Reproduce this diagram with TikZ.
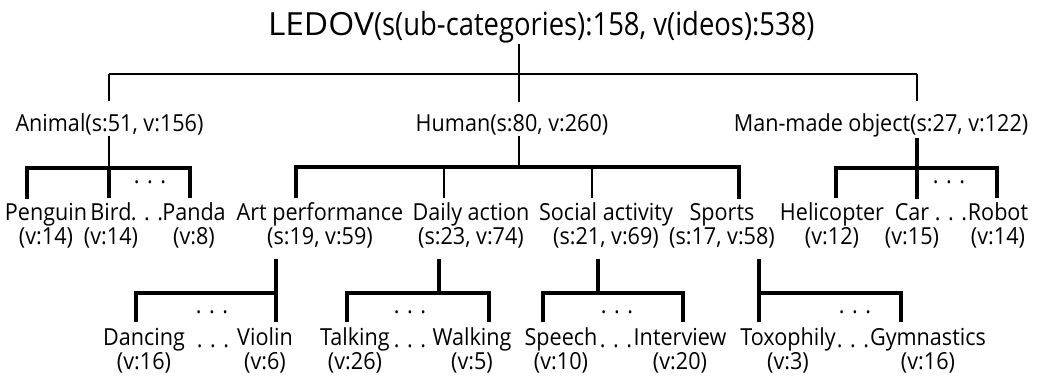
\documentclass[tikz,border=0pt]{standalone}
\usepackage{fontspec}
\setmainfont{Open Sans}[FakeStretch=0.92]
\newfontfamily\titlefont{Open Sans}[FakeStretch=0.86]
\newfontfamily\ledovfont{Open Sans}[FakeStretch=1.05]
\begin{document}
\begin{tikzpicture}[x=0.75pt,y=-0.75pt,
  lbl/.style={inner sep=0pt, outer sep=0pt, anchor=base, align=center, font=\fontsize{17.6}{18}\selectfont},
  dotsnode/.style={inner sep=0pt, outer sep=0pt, anchor=base, font=\fontsize{17.6}{18}\selectfont},
  thinln/.style={line width=1.2pt},
  medln/.style={line width=1.8pt},
  thickln/.style={line width=2.4pt, line join=miter},
]
\useasboundingbox (0,0) rectangle (1039,391);

% ---- title
\node[anchor=base west, inner sep=0pt, outer sep=0pt] (root) at (268,36)
  {\titlefont\fontsize{23.9}{28}\selectfont{\ledovfont LEDOV}(s(ub-categories):158, v(ideos):538)};

% ---- level 2
\node[lbl] (animal)  at (109.5,132) {Animal(s:51, v:156)};
\node[lbl] (human)   at (512,132)   {Human(s:80, v:260)};
\node[lbl] (manmade) at (881,132)   {Man-made object(s:27, v:122)};

% ---- level 3 (base anchor = baseline of the second line)
\node[lbl] (penguin) at (46,245)  {Penguin\\(v:14)};
\node[lbl] (bird)    at (111,245) {Bird\\(v:14)};
\node[lbl] (panda)   at (194,245) {Panda\\(v:8)};
\node[lbl] (artperf) at (320,245) {Art performance\\(s:19, v:59)};
\node[lbl] (daily)   at (471,245) {Daily action\\(s:23, v:74)};
\node[lbl] (social)  at (606,245) {Social activity\\(s:21, v:69)};
\node[lbl] (sports)  at (722,245) {Sports\\(s:17, v:58)};
\node[lbl] (heli)    at (832,245) {Helicopter\\(v:12)};
\node[lbl] (car)     at (912,245) {Car\\(v:15)};
\node[lbl] (robot)   at (998,245) {Robot\\(v:14)};
\node[dotsnode] (adots)  at (147,221) {. . .};
\node[dotsnode] (mdots)  at (951,221) {. . .};
\node[dotsnode] (adotsb) at (150,184) {. . .};
\node[dotsnode] (mdotsb) at (949,184) {. . .};

% ---- level 4
\node[lbl] (dancing)    at (144,370) {Dancing\\(v:16)};
\node[lbl] (violin)     at (265,370) {Violin\\(v:6)};
\node[lbl] (talking)    at (355,370) {Talking\\(v:26)};
\node[lbl] (walking)    at (472,370) {Walking\\(v:5)};
\node[lbl] (speech)     at (561,370) {Speech\\(v:10)};
\node[lbl] (interview)  at (680,370) {Interview\\(v:20)};
\node[lbl] (toxophily)  at (788,370) {Toxophily\\(v:3)};
\node[lbl] (gymnastics) at (928,370) {Gymnastics\\(v:16)};
\node[dotsnode] (pdots)  at (213,348) {. . .};
\node[dotsnode] (ddots)  at (410,348) {. . .};
\node[dotsnode] (sdots)  at (616,348) {. . .};
\node[dotsnode] (tdots)  at (853,348) {. . .};
\node[dotsnode] (pdotsb) at (212,314) {. . .};
\node[dotsnode] (ddotsb) at (410,314) {. . .};
\node[dotsnode] (sdotsb) at (617,314) {. . .};
\node[dotsnode] (tdotsb) at (855,314) {. . .};

% ---- junction coordinates
\coordinate (rj) at (519,74);
\coordinate (tl) at (109,74);
\coordinate (tr) at (917,74);
\coordinate (aj) at (109,168); \coordinate (a1) at (27,168);  \coordinate (a3) at (190,168);
\coordinate (hj) at (519,167); \coordinate (h1) at (296,167); \coordinate (h2) at (444,167);
\coordinate (h3) at (592,167); \coordinate (h4) at (739,167);
\coordinate (mj) at (917,168); \coordinate (m1) at (836,168); \coordinate (m3) at (997,168);
\coordinate (pj) at (276,293); \coordinate (p1) at (136,293);
\coordinate (dj) at (439,293); \coordinate (d1) at (347,293); \coordinate (d2) at (489,293);
\coordinate (sj) at (598,293); \coordinate (s1) at (543,293); \coordinate (s2) at (683,293);
\coordinate (tj) at (759,293); \coordinate (t2) at (901,293);

% ---- root connectors
\draw[thinln] (root.south -| rj) -- (rj);
\draw[medln] (tl) -- (tr);
\draw[thinln, shorten >=9.75pt] (tl) -- (tl |- animal.north);
\draw[thinln, shorten >=9.75pt] (rj) -- (rj |- human.north);
\draw[thinln, shorten >=9.75pt] (tr) -- (tr |- manmade.north);

% ---- animal
\draw[thinln] (animal.south -| aj) -- (aj);
\draw[thickln, shorten <=3.75pt, shorten >=3.75pt] (a1 |- penguin.north) -- (a1) -- (a3) -- (a3 |- panda.north);
\draw[thickln, shorten >=3.75pt] (aj) -- (aj |- bird.north);

% ---- human
\draw[thinln] (human.south -| hj) -- (hj);
\draw[thickln, shorten <=3.75pt, shorten >=3.75pt] (h1 |- artperf.north) -- (h1) -- (h4) -- (h4 |- sports.north);
\draw[thinln, shorten >=3.75pt] (h2) -- (h2 |- daily.north);
\draw[thinln, shorten >=3.75pt] (h3) -- (h3 |- social.north);

% ---- man-made
\draw[thickln] (manmade.south -| mj) -- (mj);
\draw[thickln, shorten <=3.75pt, shorten >=3.75pt] (m1 |- heli.north) -- (m1) -- (m3) -- (m3 |- robot.north);
\draw[thickln, shorten >=3.75pt] (mj) -- (mj |- car.north);

% ---- level 4 groups
\draw[thickln, shorten <=8pt] (artperf.south -| pj) -- (pj);
\draw[thickln, shorten <=5pt, shorten >=5pt] (p1 |- dancing.north) -- (p1) -- (pj) -- (pj |- violin.north);

\draw[thickln, shorten <=8pt] (daily.south -| dj) -- (dj);
\draw[thickln, shorten <=5pt, shorten >=5pt] (d1 |- talking.north) -- (d1) -- (d2) -- (d2 |- walking.north);

\draw[thickln, shorten <=8pt] (social.south -| sj) -- (sj);
\draw[thickln, shorten <=5pt, shorten >=5pt] (s1 |- speech.north) -- (s1) -- (s2) -- (s2 |- interview.north);

\draw[thickln, shorten <=8pt] (sports.south -| tj) -- (tj);
\draw[thickln, shorten <=5pt, shorten >=5pt] (tj |- toxophily.north) -- (tj) -- (t2) -- (t2 |- gymnastics.north);
\end{tikzpicture}
\end{document}
